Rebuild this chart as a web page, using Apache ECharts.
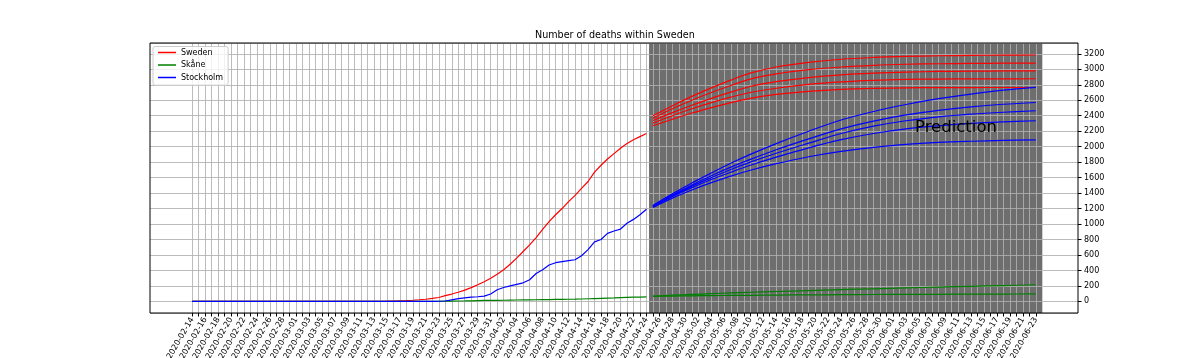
<!DOCTYPE html>
<html><head><meta charset="utf-8">
<script src="https://cdn.jsdelivr.net/npm/echarts@6/dist/echarts.min.js"></script>
<style>html,body{margin:0;padding:0;background:#fff}#c{width:1198px;height:358px}</style>
</head><body><div id="c"></div>
<script>
// ---- data ----
const startDate = [2020, 1, 14];   // 2020-02-14
const numDays = 131;               // 2020-02-14 .. 2020-06-23
const padDays = 6;
const sweden = [0,0,0,0,0,0,0,0,0,0,0,0,0,0,0,0,0,0,0,0,0,0,0,0,0,0,
  1,1,1,2,3,5,8,11,15,21,28,38,50,75,95,118,145,178,215,255,300,350,410,480,560,645,730,825,930,1030,1120,1200,1290,1370,1460,1550,1670,1760,1840,1910,1980,2040,2090,2130,2170];
const skane = [0,0,0,0,0,0,0,0,0,0,0,0,0,0,0,0,0,0,0,0,0,0,0,0,0,0,0,0,0,0,0,0,0,0,0,
  1,1,2,2,3,4,5,6,8,10,12,13,14,15,17,18,19,20,21,22,23,25,27,28,29,31,34,37,40,43,45,49,52,54,56,58];
const stockholm = [0,0,0,0,0,0,0,0,0,0,0,0,0,0,0,0,0,0,0,0,0,0,0,0,0,0,0,0,0,0,0,0,0,0,0,0,0,0,
  2,5,20,35,45,55,60,68,95,150,180,200,220,240,280,360,410,470,500,515,528,538,590,670,770,800,880,910,935,1010,1060,1120,1190];
const predDays = [71,74,77,80,83,86,90,95,100,105,110,115,120,125,130];
const swedenPred1 = [2399,2530,2650,2760,2860,2950,3030,3090,3130,3153,3167,3175,3180,3183,3185];
const swedenPred2 = [2369,2490,2600,2700,2790,2873,2940,2995,3030,3052,3065,3072,3076,3079,3080];
const swedenPred3 = [2339,2440,2535,2625,2705,2778,2840,2893,2928,2950,2964,2972,2976,2979,2980];
const swedenPred4 = [2304,2400,2490,2570,2640,2700,2755,2805,2838,2858,2869,2874,2876,2877,2878];
const swedenPred5 = [2270,2355,2435,2505,2570,2625,2675,2715,2740,2753,2760,2763,2764,2765,2765];
const stockholmPred1 = [1240,1390,1530,1660,1785,1900,2040,2200,2345,2455,2545,2620,2680,2730,2767];
const stockholmPred2 = [1235,1375,1505,1625,1735,1835,1960,2100,2230,2330,2410,2470,2515,2548,2571];
const stockholmPred3 = [1230,1365,1490,1600,1705,1800,1915,2045,2170,2265,2335,2385,2420,2445,2464];
const stockholmPred4 = [1225,1355,1470,1575,1670,1760,1865,1985,2090,2170,2230,2270,2300,2320,2335];
const stockholmPred5 = [1215,1335,1440,1535,1620,1695,1780,1870,1940,1990,2030,2055,2070,2081,2089];
const skanePred1 = [70,80,90,100,110,118,128,140,152,163,174,185,195,205,215];
const skanePred2 = [66,69,72,75,77,79,82,84,87,89,91,92,94,95,97];
const predictionSpan = [70.4, 131];
const yRange = {min: -150, max: 3340, splitNumber: 17};

// ---- build ----
function dayLabel(i){const d=new Date(Date.UTC(startDate[0],startDate[1],startDate[2]+i));return d.toISOString().slice(0,10);}
const dates = Array.from({length:numDays},(_,i)=>dayLabel(i));
const cats = [];
for(let i=0;i<padDays;i++) cats.push('pre'+i);
dates.forEach(d=>cats.push(d));
for(let i=0;i<padDays;i++) cats.push('post'+i);
const inRange = i => i>=padDays && i<padDays+numDays;

const RED='#ff0000', GREEN='#008000', BLUE='#0000ff';
function actual(name, arr, color){
  return {name, type:'line', xAxisIndex:1, data: arr.map((v,i)=>[i,v]), symbol:'none', z:3, zlevel:1,
    lineStyle:{color, width:1.2}, itemStyle:{color}};
}
function pred(name, arr, color){
  return {name, type:'line', xAxisIndex:1, data: arr.map((v,i)=>[predDays[i],v]), symbol:'none', smooth:0.35, z:3, zlevel:1,
    lineStyle:{color, width:1.2}, itemStyle:{color}};
}
const series = [
  {name:'span', type:'line', xAxisIndex:1, data:[], z:0, zlevel:0, silent:true,
   markArea:{silent:true, itemStyle:{color:'#6e6e6e'}, data:[[{xAxis:predictionSpan[0]},{xAxis:predictionSpan[1]}]]}},
  actual('Sweden', sweden, RED),
  actual('Skåne', skane, GREEN),
  actual('Stockholm', stockholm, BLUE),
  pred('Sweden p1', swedenPred1, RED), pred('Sweden p2', swedenPred2, RED), pred('Sweden p3', swedenPred3, RED),
  pred('Sweden p4', swedenPred4, RED), pred('Sweden p5', swedenPred5, RED),
  pred('Stockholm p1', stockholmPred1, BLUE), pred('Stockholm p2', stockholmPred2, BLUE), pred('Stockholm p3', stockholmPred3, BLUE),
  pred('Stockholm p4', stockholmPred4, BLUE), pred('Stockholm p5', stockholmPred5, BLUE),
  pred('Skåne p1', skanePred1, GREEN), pred('Skåne p2', skanePred2, GREEN)
];

const chart = echarts.init(document.getElementById('c'), null, {renderer:'canvas'});
chart.setOption({
  animation:false,
  textStyle:{fontFamily:'DejaVu Sans'},
  title:{text:'Number of deaths within Sweden', left:530, top:25, zlevel:1,
    textStyle:{fontSize:9.6, fontWeight:'normal', color:'#000', fontFamily:'DejaVu Sans'}},
  legend:{data:['Sweden','Skåne','Stockholm'], orient:'vertical', left:153, top:46.5, zlevel:1,
    icon:'rect', itemWidth:18, itemHeight:1.5, itemGap:4.5, padding:[2,5,3.7,5],
    backgroundColor:'rgba(255,255,255,0.8)', borderColor:'#cccccc', borderWidth:1, borderRadius:2,
    textStyle:{fontSize:8, color:'#000', fontFamily:'DejaVu Sans'}},
  grid:{left:150, right:120, top:43, bottom:45, outerBoundsMode:'none', containLabel:false,
    show:true, borderColor:'#000', borderWidth:1, backgroundColor:'transparent', z:10, zlevel:1},
  xAxis:[{type:'category', data:cats, boundaryGap:true, zlevel:1,
    axisLine:{show:false, onZero:false},
    axisTick:{show:true, alignWithLabel:true, interval:(i)=>inRange(i), length:3.5, lineStyle:{color:'#000', width:1}},
    axisLabel:{interval:(i)=>inRange(i)&&((i-padDays)%2===0), rotate:60, fontSize:8, margin:5, color:'#000', fontFamily:'DejaVu Sans'},
    splitLine:{show:true, alignWithLabel:true, interval:(i)=>inRange(i), lineStyle:{color:'#b0b0b0', width:1, opacity:0.85}}
  },{type:'value', min:-padDays-0.5, max:numDays-1+padDays+0.5, show:false, axisLine:{onZero:false}}],
  yAxis:{type:'value', position:'right', min:yRange.min, max:yRange.max, splitNumber:yRange.splitNumber, zlevel:1,
    axisLine:{show:false, onZero:false},
    axisTick:{show:true, length:3.5, lineStyle:{color:'#000'}},
    axisLabel:{showMinLabel:false, showMaxLabel:false, fontSize:8, margin:6, color:'#000', fontFamily:'DejaVu Sans',
      formatter:(v)=>String(v)},
    splitLine:{show:true, lineStyle:{color:'#b0b0b0', width:1, opacity:0.85}}},
  graphic:[{type:'text', left:915, top:119, z:20, zlevel:1,
    style:{text:'Prediction', fontSize:16.5, fill:'#000', fontFamily:'DejaVu Sans'}}],
  series
});
</script></body></html>
